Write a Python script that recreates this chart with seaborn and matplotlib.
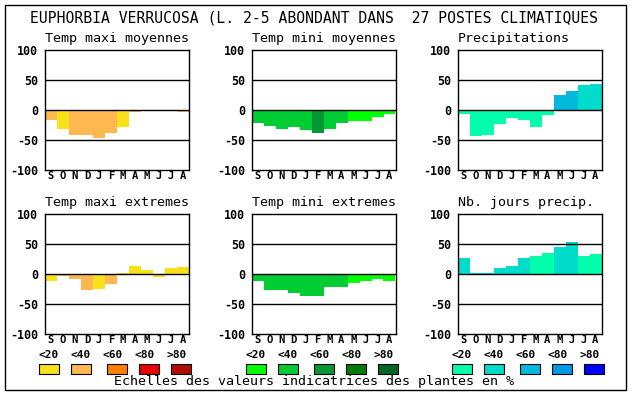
import matplotlib
matplotlib.use("Agg")
import matplotlib.pyplot as plt
import seaborn as sns
import pandas as pd
from matplotlib.patches import Rectangle

# ---------------- data ----------------
months = ["S", "O", "N", "D", "J", "F", "M", "A", "M", "J", "J", "A"]

title_main = "EUPHORBIA VERRUCOSA (L. 2-5 ABONDANT DANS  27 POSTES CLIMATIQUES"
footer = "Echelles des valeurs indicatrices des plantes en %"

titles = ["Temp maxi moyennes", "Temp mini moyennes", "Precipitations",
          "Temp maxi extremes", "Temp mini extremes", "Nb. jours precip."]

tmax_moy = [-17, -32, -41, -41, -46, -38, -28, -4, 0, 0, 0, -4]
tmax_moy_cls = [1, 0, 1, 1, 1, 1, 0, 1, 0, 0, 0, 1]
tmin_moy = [-21, -27, -32, -28, -33, -38, -32, -21, -18, -18, -12, -6]
tmin_moy_cls = [1, 1, 1, 1, 1, 2, 1, 1, 0, 0, 0, 0]
precip = [-6, -44, -41, -23, -13, -16, -28, -8, 25, 32, 42, 44]
precip_cls = [0, 0, 0, 0, 0, 0, 0, 0, 2, 2, 1, 1]
tmax_ext = [-11, -3, -8, -26, -24, -17, 2, 14, 7, -4, 10, 12]
tmax_ext_cls = [0, 1, 1, 1, 0, 1, 0, 0, 0, 0, 0, 0]
tmin_ext = [-12, -27, -27, -31, -37, -37, -21, -21, -14, -12, -8, -11]
tmin_ext_cls = [1, 1, 1, 1, 1, 1, 1, 1, 0, 0, 0, 0]
jours = [27, 2, 2, 10, 14, 27, 30, 35, 45, 54, 30, 34]
jours_cls = [1, 1, 1, 1, 1, 1, 0, 0, 1, 1, 0, 0]

scale_labels = ["<20", "<40", "<60", "<80", ">80"]
warm = ["#F8E11B", "#FFB84F", "#FF8000", "#E80000", "#B00C00"]
green = ["#00FF00", "#00CC33", "#009933", "#007D00", "#006622"]
blue = ["#00FFAA", "#00DCCC", "#00B9DD", "#0099E6", "#0000FF"]

series = [(tmax_moy, tmax_moy_cls, warm), (tmin_moy, tmin_moy_cls, green),
          (precip, precip_cls, blue), (tmax_ext, tmax_ext_cls, warm),
          (tmin_ext, tmin_ext_cls, green), (jours, jours_cls, blue)]

# ---------------- layout ----------------
W, H = 630, 394
sns.set_theme(style="white")
plt.rcParams["font.family"] = ["DejaVu Sans Mono", "DejaVu Sans"]
fig = plt.figure(figsize=(W / 100, H / 100), dpi=100)
fig.patch.set_facecolor("white")


def fx(x):
    return x / W


def fy(y):
    return 1 - y / H


lefts = [45, 251.5, 457.5]
tops = [50, 214.3]
aw, ah = 144, 120

fig.add_artist(Rectangle((fx(4.5), fy(390)), fx(625.5) - fx(4.5), fy(4.5) - fy(390),
                         transform=fig.transFigure, fill=False, ec="black", lw=1.0))
fig.text(fx(314.5), fy(18), title_main, ha="center", va="center", fontsize=10.6,
         color="black")

for i, (vals, cls, pal) in enumerate(series):
    r, c = divmod(i, 3)
    l, t = lefts[c], tops[r]
    ax = fig.add_axes([fx(l), fy(t + ah), aw / W, ah / H])
    df = pd.DataFrame({"pos": list(range(len(months))), "val": vals,
                       "cls": [str(k) for k in cls]})
    palette = {str(k): pal[k] for k in range(5)}
    sns.barplot(data=df, x="pos", y="val", hue="cls", palette=palette,
                dodge=False, width=1.0, saturation=1, legend=False, ax=ax,
                linewidth=0, edgecolor="none")
    ax.set_xlim(-0.5, 11.5)
    ax.set_ylim(-100, 100)
    for yv in (-50, 0, 50):
        ax.axhline(yv, color="black", lw=1.0, zorder=5)
    ax.set_yticks([-100, -50, 0, 50, 100])
    ax.set_yticklabels(["-100", "-50", "0", "50", "100"], fontweight="bold",
                       fontsize=8.4)
    ax.set_xticks(range(len(months)))
    ax.set_xticklabels(months, fontweight="bold", fontsize=7.6)
    ax.tick_params(axis="both", length=0, colors="black")
    ax.tick_params(axis="y", pad=4.8)
    ax.tick_params(axis="x", pad=0.6)
    ax.set_xlabel("")
    ax.set_ylabel("")
    for sp in ax.spines.values():
        sp.set_visible(True)
        sp.set_color("black")
        sp.set_linewidth(1.0)
    ax.set_facecolor("white")
    ax.grid(False)
    fig.text(fx(l), fy(t - 11.5), titles[i], ha="left", va="center",
             fontsize=9.6, color="black")

# legend scales
box_off = [-6, 26, 62, 94, 126]
for c, pal in enumerate([warm, green, blue]):
    l = lefts[c]
    for k in range(5):
        fig.text(fx(l + 4 + 32 * k), fy(355), scale_labels[k], ha="center",
                 va="center", fontsize=8.0, fontweight="bold", color="black")
        bx = l + box_off[k]
        fig.add_artist(Rectangle((fx(bx), fy(373.5)), 20 / W, 9.5 / H,
                                 transform=fig.transFigure, fc=pal[k],
                                 ec="black", lw=0.8))

fig.text(fx(314.5), fy(382), footer, ha="center", va="center", fontsize=9.6,
         color="black")

fig.savefig("out.png", dpi=100, facecolor="white")
